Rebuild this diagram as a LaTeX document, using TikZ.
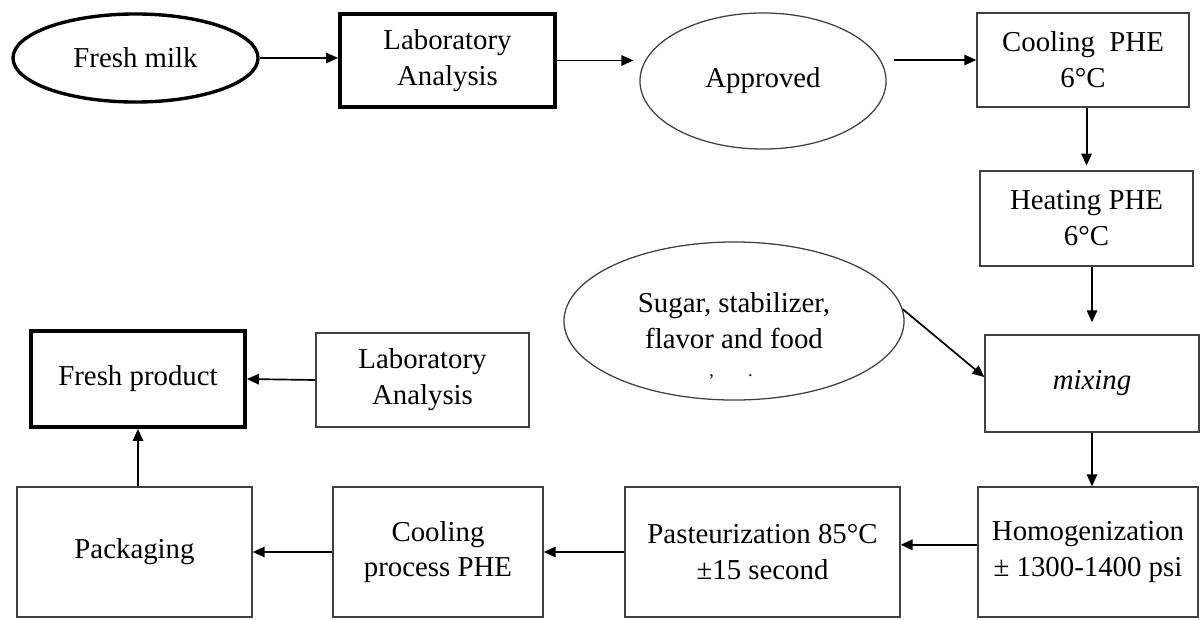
\documentclass[tikz,border=0pt]{standalone}
\usepackage{fontspec}
\setmainfont{Liberation Serif}
\usetikzlibrary{shapes.geometric,arrows.meta}

\begin{document}
\begin{tikzpicture}[x=0.025cm,y=-0.025cm,
  font=\fontsize{20.5}{25.5}\selectfont,
  box/.style={draw=black!75,line width=0.9pt,rectangle,inner sep=0pt,align=center},
  boldbox/.style={box,draw=black,line width=2.6pt},
  oval/.style={draw=black!75,line width=0.9pt,ellipse,inner sep=0pt,align=center},
  flow/.style={-{Triangle[length=0.3cm,width=0.26cm]},line width=1.2pt}]
\useasboundingbox (0,0) rectangle (1200,619);
%top row
\node[oval,draw=black,line width=2.4pt,minimum width=6.125cm,minimum height=2.2cm] (milk) at (135.5,58) {Fresh milk};
\node[boldbox,minimum width=5.375cm,minimum height=2.325cm] (labone) at (447.5,60.5) {Laboratory\\Analysis};
\node[oval,minimum width=6.15cm,minimum height=3.4cm] (approved) at (763,81) {Approved};
\node[box,minimum width=5.3cm,minimum height=2.35cm] (cooling) at (1083,60) {Cooling\enspace PHE\\6°C};
%right column
\node[box,minimum width=5.325cm,minimum height=2.375cm] (heating) at (1086.5,218.5) {Heating PHE\\6°C};
\node[oval,minimum width=8.5cm,minimum height=3.95cm] (sugar) at (734,321) {Sugar, stabilizer,\\flavor and food};
\node[anchor=base,inner sep=0pt,font=\fontsize{13}{14}\selectfont] (sugarcut) at (731,376) {,\hspace{0.85cm}.};
\node[box,minimum width=5.35cm,minimum height=2.425cm] (mixing) at (1092,383.5) {\itshape mixing};
%bottom row
\node[box,minimum width=5.5cm,minimum height=3.25cm] (homog) at (1088,552) {Homogenization\\± 1300-1400 psi};
\node[box,minimum width=6.875cm,minimum height=3.25cm] (past) at (762.5,552) {Pasteurization 85°C\\±15 second};
\node[box,minimum width=5.25cm,minimum height=3.25cm] (cooltwo) at (438,552) {Cooling\\process PHE};
\node[box,minimum width=5.875cm,minimum height=3.25cm] (pack) at (134.5,552) {Packaging};
%left column
\node[boldbox,minimum width=5.35cm,minimum height=2.4cm] (fresh) at (138,379) {Fresh product};
\node[box,minimum width=5.325cm,minimum height=2.35cm] (labtwo) at (422.5,380) {Laboratory\\Analysis};
%arrows
\draw[flow] (milk.east) -- (milk.east -| labone.west);
\draw[flow,shorten >=0.15cm] (labone.east) -- (labone.east -| approved.west);
\draw[flow,shorten <=0.18cm] (approved.east |- cooling.west) -- (cooling.west);
\draw[flow,line width=1.4pt,shorten >=0.12cm] (heating.north |- cooling.south) -- (heating.north);
\draw[flow,line width=1.4pt,shorten >=0.3cm] (mixing.north |- heating.south) -- (mixing.north);
\draw[flow] (sugar.4) -- ([yshift=0.16cm]mixing.west);
\draw[flow] (mixing.south) -- (mixing.south |- homog.north);
\draw[flow,line width=1.8pt] ([yshift=0.18cm]homog.west) -- ([yshift=0.18cm]past.east);
\draw[flow] (past.west) -- (cooltwo.east);
\draw[flow] (cooltwo.west) -- (pack.east);
\draw[flow] (fresh.south |- pack.north) -- (fresh.south);
\draw[flow] (labtwo.west) -- (fresh.east);
\end{tikzpicture}
\end{document}
